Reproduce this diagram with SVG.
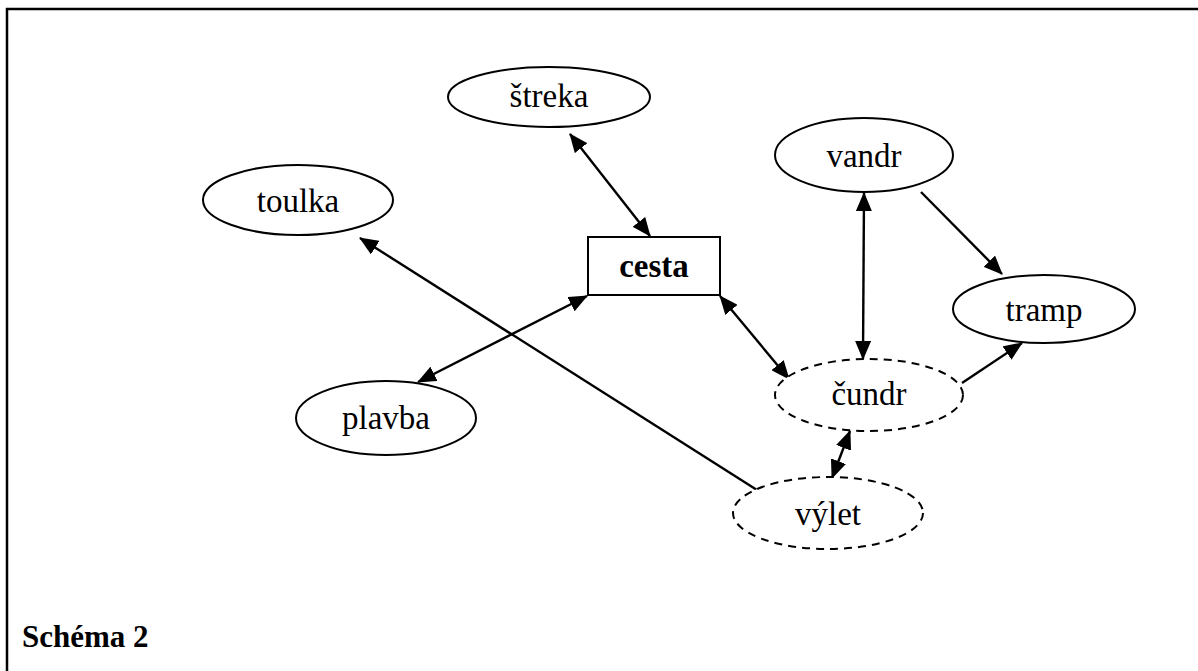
<svg xmlns="http://www.w3.org/2000/svg" width="1198" height="671" viewBox="0 0 1198 671">
  <style>
    .node { fill: #fff; stroke: #000; stroke-width: 2; }
    .dashed { stroke-dasharray: 8 6; }
    .label { font-family: "Liberation Serif", "Times New Roman", serif; font-size: 33px; fill: #000; text-anchor: middle; }
    .bold { font-weight: bold; }
    .caption { font-size: 31px; text-anchor: start; }
    .edge { fill: none; stroke: #000; stroke-width: 2.4; }
    .both { marker-start: url(#arrow); marker-end: url(#arrow); }
    .one { marker-end: url(#arrow); }
  </style>
  <defs>
    <marker id="arrow" markerUnits="userSpaceOnUse" markerWidth="20" markerHeight="16" refX="18" refY="8" orient="auto-start-reverse">
      <path d="M0,0 L19,8 L0,16 z" fill="#000"/>
    </marker>
  </defs>

  <rect x="0" y="0" width="1198" height="671" fill="#fff"/>
  <!-- frame, open on the right and bottom -->
  <path d="M7,680 L7,9 L1210,9" fill="none" stroke="#000" stroke-width="2.5"/>

  <g id="connectors">
    <line class="edge both" x1="570" y1="134" x2="650" y2="236"/>
    <line class="edge both" x1="587" y1="296" x2="418" y2="382"/>
    <line class="edge one" x1="757" y1="490" x2="360" y2="238"/>
    <line class="edge both" x1="720" y1="296" x2="789" y2="379"/>
    <line class="edge both" x1="864" y1="193" x2="863" y2="359"/>
    <line class="edge one" x1="921" y1="192" x2="1002" y2="274"/>
    <line class="edge one" x1="962" y1="383" x2="1022" y2="343"/>
    <line class="edge both" x1="850" y1="431" x2="832" y2="478"/>
  </g>

  <g id="streka">
    <ellipse class="node" cx="549" cy="97" rx="101" ry="30"/>
    <text class="label" x="549" y="107">štreka</text>
  </g>
  <g id="toulka">
    <ellipse class="node" cx="298" cy="200" rx="95" ry="35"/>
    <text class="label" x="298" y="212">toulka</text>
  </g>
  <g id="cesta">
    <rect class="node" x="588" y="237" width="132" height="58"/>
    <text class="label bold" x="654" y="277">cesta</text>
  </g>
  <g id="vandr">
    <ellipse class="node" cx="864" cy="155" rx="89" ry="37"/>
    <text class="label" x="864" y="167">vandr</text>
  </g>
  <g id="tramp">
    <ellipse class="node" cx="1044" cy="309" rx="91" ry="34"/>
    <text class="label" x="1044" y="321">tramp</text>
  </g>
  <g id="plavba">
    <ellipse class="node" cx="386" cy="418" rx="90" ry="37"/>
    <text class="label" x="386" y="429">plavba</text>
  </g>
  <g id="cundr">
    <ellipse class="node dashed" cx="869" cy="395" rx="94" ry="36"/>
    <text class="label" x="869" y="405">čundr</text>
  </g>
  <g id="vylet">
    <ellipse class="node dashed" cx="828" cy="513" rx="95" ry="36"/>
    <text class="label" x="828" y="525">výlet</text>
  </g>

  <text class="label bold caption" x="22" y="647">Schéma 2</text>
</svg>
